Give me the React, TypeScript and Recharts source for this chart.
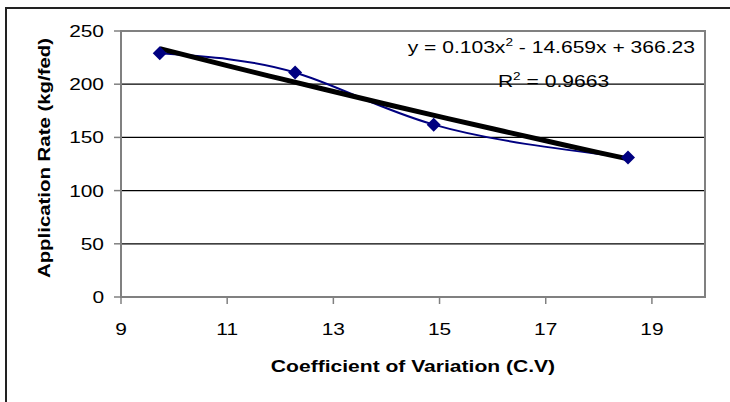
import React from 'react';
import { ComposedChart, Line, XAxis, YAxis, CartesianGrid, ReferenceArea, Label } from 'recharts';

// Observed points
const cvValues = [9.73, 12.28, 14.89, 18.55];
const rateValues = [229, 211, 162, 131];

// Polynomial trendline values
const trendCv = [9.73, 11, 12, 13, 14, 15, 16, 17, 18, 18.55];
const trendRate = [233.4, 217.4, 205.2, 193.1, 181.2, 169.5, 158.1, 146.8, 135.7, 129.8];

const xTicks = [9, 11, 13, 15, 17, 19];
const yTicks = [0, 50, 100, 150, 200, 250];

const xTitle = 'Coefficient of Variation (C.V)';
const yTitle = 'Application Rate (kg/fed)';
const eqMain = 'y = 0.103x';
const eqRest = ' - 14.659x + 366.23';
const r2Value = ' = 0.9663';

const pointData = cvValues.map((x, i) => ({ x, y: rateValues[i] }));
const trendData = trendCv.map((x, i) => ({ x, y: trendRate[i] }));

const FONT = '"Liberation Sans", Arial, sans-serif';
const SX = 1.23;

const XTick = (props: any) => {
  const { x, y, payload } = props;
  return (
    <text transform={`translate(${x},${y + 31}) scale(${SX},1)`} textAnchor="middle" fontSize={17} fontFamily={FONT} fill="#000">
      {payload.value}
    </text>
  );
};

const YTick = (props: any) => {
  const { x, y, payload } = props;
  return (
    <text transform={`translate(${x},${y + 6}) scale(${SX},1)`} textAnchor="end" fontSize={17} fontFamily={FONT} fill="#000">
      {payload.value}
    </text>
  );
};

const Diamond = (props: any) => {
  const { cx, cy } = props;
  if (cx == null || cy == null) return null;
  const r = 7;
  return <path d={`M${cx},${cy - r}L${cx + r},${cy}L${cx},${cy + r}L${cx - r},${cy}Z`} fill="#000080" stroke="none" />;
};

export default function App() {
  return (
    <div style={{ position: 'absolute', left: 0, top: 0, width: 730, height: 402, overflow: 'hidden', background: '#fff' }}>
      <div style={{ position: 'absolute', left: 5, top: 7, width: 800, height: 500, borderLeft: '2px solid #222', borderTop: '2px solid #222' }} />
      <div style={{ position: 'absolute', left: 0, top: 0 }}>
        <ComposedChart width={730} height={402} margin={{ top: 31, right: 25, left: 0, bottom: 0 }}>
          <CartesianGrid vertical={false} stroke="#000" strokeWidth={1.2} />
          <XAxis
            type="number"
            dataKey="x"
            domain={[9, 20]}
            ticks={xTicks}
            allowDataOverflow
            height={105}
            tickSize={7}
            tickMargin={0}
            axisLine={{ stroke: '#808080', strokeWidth: 2 }}
            tickLine={{ stroke: '#808080', strokeWidth: 1.5 }}
            tick={<XTick />}
          >
            <Label
              content={(p: any) => {
                const vb = p.viewBox || {};
                return (
                  <text transform={`translate(${vb.x + vb.width / 2},${vb.y + 75}) scale(1.24,1)`} textAnchor="middle" fontSize={17} fontWeight="bold" fontFamily={FONT} fill="#000">
                    {xTitle}
                  </text>
                );
              }}
            />
          </XAxis>
          <YAxis
            type="number"
            dataKey="y"
            domain={[0, 250]}
            ticks={yTicks}
            width={121}
            tickSize={7}
            tickMargin={10}
            axisLine={{ stroke: '#808080', strokeWidth: 2 }}
            tickLine={{ stroke: '#808080', strokeWidth: 1.5 }}
            tick={<YTick />}
          >
            <Label
              content={(p: any) => {
                const vb = p.viewBox || {};
                return (
                  <text transform={`translate(49.5,${vb.y + vb.height / 2 - 6}) rotate(-90) scale(1.2,1)`} textAnchor="middle" fontSize={17} fontWeight="bold" fontFamily={FONT} fill="#000">
                    {yTitle}
                  </text>
                );
              }}
            />
          </YAxis>
          <ReferenceArea x1={9} x2={20} y1={0} y2={250} fill="none" stroke="#808080" strokeWidth={2} ifOverflow="visible" />
          <Line
            data={pointData}
            dataKey="y"
            type="natural"
            stroke="#000080"
            strokeWidth={2}
            dot={<Diamond />}
            activeDot={false}
            isAnimationActive={false}
          />
          <Line
            data={trendData}
            dataKey="y"
            type="natural"
            stroke="#000"
            strokeWidth={5}
            dot={false}
            activeDot={false}
            isAnimationActive={false}
          />
        </ComposedChart>
      </div>
      <svg width={730} height={402} style={{ position: 'absolute', left: 0, top: 0, pointerEvents: 'none' }}>
        <text transform={`translate(695,53) scale(1.24,1)`} textAnchor="end" fontSize={17} fontFamily={FONT} fill="#000">
          {eqMain}
          <tspan fontSize={11} dy={-7}>2</tspan>
          <tspan dy={7}>{eqRest}</tspan>
        </text>
        <text transform={`translate(553.5,87) scale(1.24,1)`} textAnchor="middle" fontSize={17} fontFamily={FONT} fill="#000">
          R
          <tspan fontSize={11} dy={-7}>2</tspan>
          <tspan dy={7}>{r2Value}</tspan>
        </text>
      </svg>
    </div>
  );
}
